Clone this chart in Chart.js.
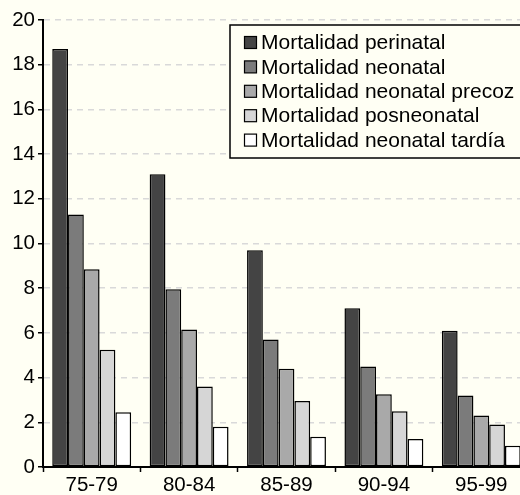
<!DOCTYPE html>
<html>
<head>
<meta charset="utf-8">
<script src="https://cdn.jsdelivr.net/npm/chart.js@4"></script>
<style>
  html, body { margin: 0; padding: 0; background: #fffff4; overflow: hidden; }
  #wrap { width: 540px; height: 495px; }
</style>
</head>
<body>
<div id="wrap"><canvas id="mortChart" width="540" height="495"></canvas></div>
<script>
const categories = ['75-79', '80-84', '85-89', '90-94', '95-99'];
const perinatal = [18.7, 13.1, 9.7, 7.1, 6.1];
const neonatal = [11.3, 7.95, 5.7, 4.5, 3.2];
const neonatalPrecoz = [8.85, 6.15, 4.4, 3.25, 2.3];
const posneonatal = [5.25, 3.6, 2.95, 2.5, 1.9];
const neonatalTardia = [2.45, 1.8, 1.35, 1.25, 0.95];

const seriesNames = [
  'Mortalidad perinatal',
  'Mortalidad neonatal',
  'Mortalidad neonatal precoz',
  'Mortalidad posneonatal',
  'Mortalidad neonatal tardía'
];
const seriesColors = ['#444444', '#7b7b7b', '#a9a9a9', '#d6d6d6', '#ffffff'];
const seriesData = [perinatal, neonatal, neonatalPrecoz, posneonatal, neonatalTardia];

const FONT = '"Liberation Sans", Arial, Helvetica, sans-serif';

// legend drawn inside the plot, top right, with a framed box
const boxLegend = {
  id: 'boxLegend',
  afterDatasetsDraw(chart) {
    const ctx = chart.ctx;
    const x0 = 230, y0 = 25, w = 300, h = 133;
    ctx.save();
    ctx.fillStyle = '#fffff4';
    ctx.fillRect(x0, y0, w, h);
    ctx.strokeStyle = '#000';
    ctx.lineWidth = 1.5;
    ctx.strokeRect(x0, y0, w, h);
    ctx.font = '21px ' + FONT;
    ctx.textBaseline = 'middle';
    chart.data.datasets.forEach((ds, i) => {
      const cy = 42.5 + i * 24.4;
      ctx.fillStyle = ds.backgroundColor;
      ctx.fillRect(244.5, cy - 6, 12, 12);
      ctx.lineWidth = 1.2;
      ctx.strokeStyle = '#000';
      ctx.strokeRect(244.5, cy - 6, 12, 12);
      ctx.fillStyle = '#000';
      ctx.fillText(ds.label, 261, cy + 1);
    });
    ctx.restore();
  }
};

new Chart(document.getElementById('mortChart').getContext('2d'), {
  type: 'bar',
  data: {
    labels: categories,
    datasets: seriesData.map((d, i) => ({
      label: seriesNames[i],
      data: d,
      backgroundColor: seriesColors[i],
      borderColor: '#000',
      borderWidth: 1.5,
      borderSkipped: false,
      categoryPercentage: 0.81,
      barPercentage: 1
    }))
  },
  options: {
    responsive: false,
    animation: false,
    layout: { padding: { top: 20, right: 10, left: 0, bottom: 0 } },
    plugins: {
      legend: { display: false },
      tooltip: { enabled: false }
    },
    scales: {
      x: {
        afterFit(scale) { scale.height = 28; },
        grid: {
          offset: true,
          drawOnChartArea: false,
          tickLength: 5,
          tickColor: '#000',
          tickWidth: 1.5
        },
        border: { color: '#000', width: 2 },
        ticks: { color: '#000', padding: 1, font: { family: FONT, size: 20.5 } }
      },
      y: {
        min: 0,
        max: 20,
        afterFit(scale) { scale.width = 43; },
        grid: {
          color: '#d9d9d9',
          lineWidth: 1.5,
          tickLength: 5,
          tickColor: '#000',
          tickWidth: 1.5,
          tickBorderDash: []
        },
        border: { color: '#000', width: 2, dash: [6, 5] },
        ticks: { stepSize: 2, color: '#000', padding: 3, font: { family: FONT, size: 20.5 } }
      }
    }
  },
  plugins: [boxLegend]
});
</script>
</body>
</html>
